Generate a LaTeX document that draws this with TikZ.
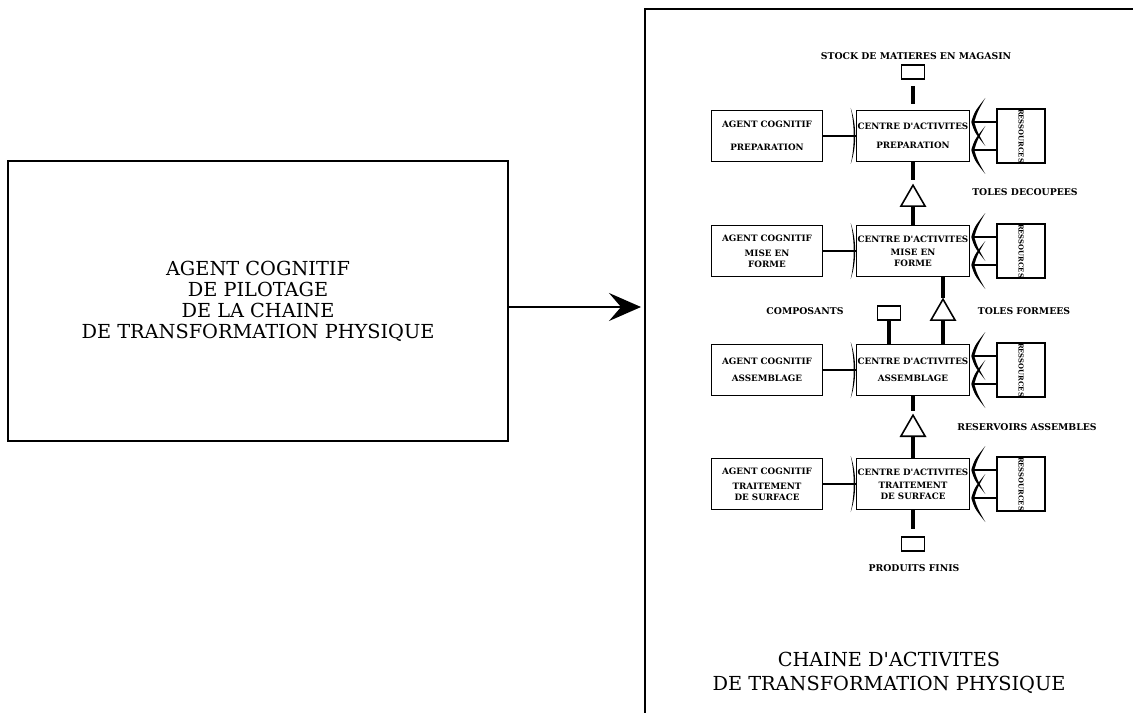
\documentclass[tikz,border=0pt]{standalone}
\usepackage{fontspec}
\setmainfont{DejaVu Serif}[Ligatures=TeXOff]
\usetikzlibrary{arrows.meta, positioning, shapes.geometric, calc}
\tikzset{
    x=0.02cm, y=-0.02cm,
    tiny/.style={font=\fontsize{5}{5.8}\selectfont\bfseries},
    agentbox/.style={rectangle, draw, line width=0.9pt, minimum width=2.22cm, minimum height=1.02cm,
                     align=center, inner sep=0pt, tiny},
    centrebox/.style={agentbox, minimum width=2.26cm},
    ressbox/.style={rectangle, draw, line width=0.9pt, minimum width=0.96cm, minimum height=1cm,
                    inner sep=0pt, font=\fontsize{3.9}{4.5}\selectfont\bfseries},
    stockbox/.style={rectangle, draw, line width=0.9pt, minimum width=0.46cm, minimum height=0.28cm, inner sep=0pt},
    flowtri/.style={regular polygon, regular polygon sides=3, draw, line width=0.9pt, minimum size=0.56cm, inner sep=0pt},
    flow/.style={line width=2.6pt},
    link/.style={line width=0.7pt},
    tag/.style={font=\fontsize{5.3}{6}\selectfont\bfseries},
    bigtext/.style={font=\fontsize{11}{13.5}\selectfont, align=center},
    bigarrow/.style={line width=1pt, -{Stealth[length=6.4mm, width=5.6mm, inset=2.4mm]}}
}

\begin{document}
\begin{tikzpicture}
    \useasboundingbox (0,0) rectangle (1133,713);

    % Pilotage
    \node[rectangle, draw, line width=1pt, minimum width=10cm, minimum height=5.6cm, bigtext,
          font=\fontsize{11}{12}\selectfont] (pilot) at (258,301)
        {AGENT COGNITIF\\DE PILOTAGE\\DE LA CHAINE\\DE TRANSFORMATION PHYSIQUE};

    % Chaine frame
    \draw[line width=1.2pt] (645,713) -- (645,9) -- (1133,9);
    \coordinate (chain) at (641,307);
    \draw[bigarrow] (pilot.east |- chain) -- (chain);
    \node[bigtext] (chaintitle) at (889,673) {CHAINE D'ACTIVITES\\DE TRANSFORMATION PHYSIQUE};

    % Preparation
    \node[agentbox] (ag1) at (767,136) {AGENT COGNITIF\\[7pt]PREPARATION};
    \node[centrebox] (ca1) at (913,136) {CENTRE D'ACTIVITES\\[5pt]PREPARATION};
    \node[ressbox] (rs1) at (1021,136) {\rotatebox{-90}{RESSOURCES}};

    % Mise en forme
    \node[agentbox] (ag2) at (767,251) {AGENT COGNITIF\\[3pt]MISE EN\\FORME};
    \node[centrebox] (ca2) at (913,251) {CENTRE D'ACTIVITES\\[2pt]MISE EN\\FORME};
    \node[ressbox] (rs2) at (1021,251) {\rotatebox{-90}{RESSOURCES}};

    % Assemblage
    \node[agentbox] (ag3) at (767,370) {AGENT COGNITIF\\[4pt]ASSEMBLAGE};
    \node[centrebox] (ca3) at (913,370) {CENTRE D'ACTIVITES\\[4pt]ASSEMBLAGE};
    \node[ressbox] (rs3) at (1021,370) {\rotatebox{-90}{RESSOURCES}};

    % Traitement de surface
    \node[agentbox] (ag4) at (767,484) {AGENT COGNITIF\\[3pt]TRAITEMENT\\DE SURFACE};
    \node[centrebox] (ca4) at (913,484) {CENTRE D'ACTIVITES\\[2pt]TRAITEMENT\\DE SURFACE};
    \node[ressbox] (rs4) at (1021,484) {\rotatebox{-90}{RESSOURCES}};

    % Stocks and products
    \node[stockbox] (st) at (913,72) {};
    \node[tag] (stlab) at (916,56) {STOCK DE MATIERES EN MAGASIN};
    \node[flowtri, anchor=south] (t1) at (913,207) {};
    \node[tag] (t1lab) at (1025,192) {TOLES DECOUPEES};
    \node[stockbox] (cp) at (889,313) {};
    \node[tag] (cplab) at (805,311) {COMPOSANTS};
    \node[flowtri, anchor=south] (t2) at (943,321) {};
    \node[tag] (t2lab) at (1024,311) {TOLES FORMEES};
    \node[flowtri, anchor=south] (t3) at (913,437) {};
    \node[tag] (t3lab) at (1027,427) {RESERVOIRS ASSEMBLES};
    \node[stockbox] (pf) at (913,544) {};
    \node[tag] (pflab) at (914,568) {PRODUITS FINIS};

    % Flows
    \draw[flow, shorten <=0.12cm, shorten >=0.12cm] (st) -- (ca1);
    \draw[flow, shorten >=0.08cm] (ca1) -- (t1);
    \draw[flow] (t1) -- (ca2);
    \draw[flow] (t2) -- (t2 |- ca2.south);
    \draw[flow] (t2) -- (t2 |- ca3.north);
    \draw[flow] (cp) -- (cp |- ca3.north);
    \draw[flow, shorten >=0.06cm] (ca3) -- (t3);
    \draw[flow] (t3) -- (ca4);
    \draw[flow, shorten >=0.14cm] (ca4) -- (pf);

    % Links and brackets
    \foreach \r in {1,2,3,4} {
        \draw[link] (ag\r) -- (ca\r);
        \fill ($(ca\r.west)+(-5,-28)$) .. controls ($(ca\r.west)+(1,-10)$) and ($(ca\r.west)+(1,10)$) .. ($(ca\r.west)+(-5,28)$)
            .. controls ($(ca\r.west)+(-1,10)$) and ($(ca\r.west)+(-1,-10)$) .. cycle;
        \foreach \dy in {-14,14} {
            \draw[link] ($(rs\r.west)+(0,\dy)$) -- ($(ca\r.east)+(4,\dy)$);
            \fill ($(ca\r.east)+(15,\dy-24)$) .. controls ($(ca\r.east)+(4,\dy-10)$) .. ($(ca\r.east)+(1,\dy)$)
                .. controls ($(ca\r.east)+(4,\dy+10)$) .. ($(ca\r.east)+(15,\dy+24)$)
                .. controls ($(ca\r.east)+(7,\dy+10)$) .. ($(ca\r.east)+(4,\dy)$)
                .. controls ($(ca\r.east)+(7,\dy-10)$) .. cycle;
        }
    }
\end{tikzpicture}
\end{document}
